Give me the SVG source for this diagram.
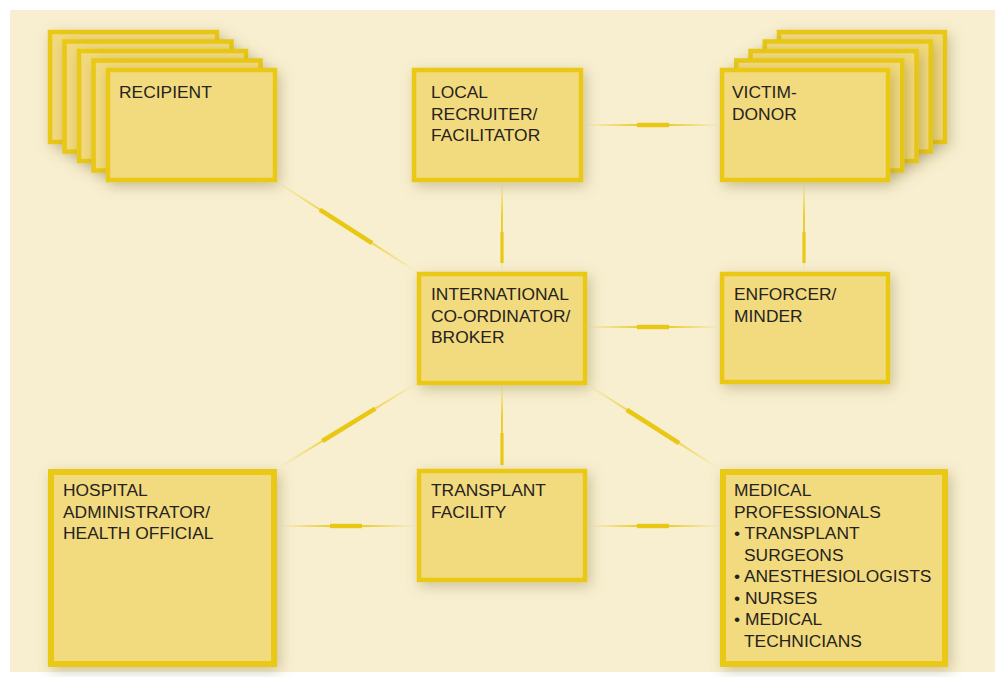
<svg xmlns="http://www.w3.org/2000/svg" width="1000" height="677" viewBox="0 0 1000 677">
  <defs>
    <filter id="sh" x="-25%" y="-25%" width="160%" height="160%">
      <feDropShadow dx="3" dy="4" stdDeviation="7" flood-color="#7a6a30" flood-opacity="0.35"/>
    </filter>
    <linearGradient id="fade" x1="0" y1="0" x2="1" y2="0">
      <stop offset="0" stop-color="#e9c815" stop-opacity="0"/>
      <stop offset="0.38" stop-color="#e9c815" stop-opacity="0.85"/>
      <stop offset="0.62" stop-color="#e9c815" stop-opacity="0.85"/>
      <stop offset="1" stop-color="#e9c815" stop-opacity="0"/>
    </linearGradient>
  </defs>
  <style>
    .box { fill: #f2da7e; stroke: #e9c815; stroke-width: 4.5; filter: url(#sh); }
    .big { stroke-width: 6; }
    .lbl { font-family: "Liberation Sans", Arial, sans-serif; font-size: 17.4px; fill: #262220; }
    .thin { fill: url(#fade); }
    .thick { fill: #e9c815; }
  </style>
  <rect x="0" y="0" width="1000" height="677" fill="#ffffff"/>
  <rect x="10" y="10" width="985" height="662" fill="#f8efd0"/>

  <g id="connectors">
    <g transform="translate(585,125)"><rect class="thin" x="0" y="-1" width="135" height="2"/><rect class="thick" x="52" y="-2.2" width="32" height="4.4"/></g>
    <g transform="translate(502,182) rotate(90)"><rect class="thin" x="0" y="-1" width="90" height="2"/><rect class="thick" x="50" y="-1.6" width="31" height="3.2"/></g>
    <g transform="translate(804,182) rotate(90)"><rect class="thin" x="0" y="-1" width="90" height="2"/><rect class="thick" x="50" y="-1.6" width="31" height="3.2"/></g>
    <g transform="translate(587,327)"><rect class="thin" x="0" y="-1" width="133" height="2"/><rect class="thick" x="50" y="-2.2" width="32" height="4.4"/></g>
    <g transform="translate(277,182) rotate(32.74)"><rect class="thin" x="0" y="-1" width="166" height="2"/><rect class="thick" x="51" y="-2.3" width="62" height="4.6"/></g>
    <g transform="translate(417,383) rotate(148.5)"><rect class="thin" x="0" y="-1" width="161" height="2"/><rect class="thick" x="49" y="-2.3" width="62" height="4.6"/></g>
    <g transform="translate(588,385) rotate(32.55)"><rect class="thin" x="0" y="-1" width="154" height="2"/><rect class="thick" x="46" y="-2.3" width="62" height="4.6"/></g>
    <g transform="translate(502,385) rotate(90)"><rect class="thin" x="0" y="-1" width="84" height="2"/><rect class="thick" x="48" y="-1.6" width="32" height="3.2"/></g>
    <g transform="translate(279,526)"><rect class="thin" x="0" y="-1" width="136" height="2"/><rect class="thick" x="51" y="-2.2" width="32" height="4.4"/></g>
    <g transform="translate(588,526)"><rect class="thin" x="0" y="-1" width="131" height="2"/><rect class="thick" x="49" y="-2.2" width="32" height="4.4"/></g>
  </g>

  <g id="recipient">
    <rect class="box" x="50" y="32" width="167" height="110"/>
    <rect class="box" x="64.5" y="41.5" width="167" height="110"/>
    <rect class="box" x="79" y="51" width="167" height="110"/>
    <rect class="box" x="93.5" y="60.5" width="167" height="110"/>
    <rect class="box" x="108" y="70" width="167" height="110"/>
    <text class="lbl" x="119" y="98">RECIPIENT</text>
  </g>

  <g id="victim-donor">
    <rect class="box" x="779" y="32" width="166" height="110"/>
    <rect class="box" x="764.75" y="41.5" width="166" height="110"/>
    <rect class="box" x="750.5" y="51" width="166" height="110"/>
    <rect class="box" x="736.25" y="60.5" width="166" height="110"/>
    <rect class="box" x="722" y="70" width="166" height="110"/>
    <text class="lbl" x="732" y="98">VICTIM-</text>
    <text class="lbl" x="732" y="119.5">DONOR</text>
  </g>

  <g id="local-recruiter">
    <rect class="box" x="414" y="70" width="167" height="110"/>
    <text class="lbl" x="431" y="98">LOCAL</text>
    <text class="lbl" x="431" y="119.5">RECRUITER/</text>
    <text class="lbl" x="431" y="141">FACILITATOR</text>
  </g>

  <g id="broker">
    <rect class="box" x="419" y="274" width="166" height="109"/>
    <text class="lbl" x="431" y="300">INTERNATIONAL</text>
    <text class="lbl" x="431" y="321.5">CO-ORDINATOR/</text>
    <text class="lbl" x="431" y="343">BROKER</text>
  </g>

  <g id="enforcer">
    <rect class="box" x="722" y="274" width="166" height="108"/>
    <text class="lbl" x="734" y="300">ENFORCER/</text>
    <text class="lbl" x="734" y="321.5">MINDER</text>
  </g>

  <g id="hospital">
    <rect class="box big" x="51" y="472" width="223" height="192"/>
    <text class="lbl" x="63" y="496">HOSPITAL</text>
    <text class="lbl" x="63" y="517.5">ADMINISTRATOR/</text>
    <text class="lbl" x="63" y="539">HEALTH OFFICIAL</text>
  </g>

  <g id="transplant-facility">
    <rect class="box" x="419" y="471" width="166" height="109"/>
    <text class="lbl" x="431" y="496">TRANSPLANT</text>
    <text class="lbl" x="431" y="517.5">FACILITY</text>
  </g>

  <g id="medical-professionals">
    <rect class="box big" x="723" y="472" width="222" height="192"/>
    <text class="lbl" x="734" y="496">MEDICAL</text>
    <text class="lbl" x="734" y="517.5">PROFESSIONALS</text>
    <text class="lbl" x="734" y="539">• TRANSPLANT</text>
    <text class="lbl" x="744" y="560.5">SURGEONS</text>
    <text class="lbl" x="734" y="582">• ANESTHESIOLOGISTS</text>
    <text class="lbl" x="734" y="603.5">• NURSES</text>
    <text class="lbl" x="734" y="625">• MEDICAL</text>
    <text class="lbl" x="744" y="646.5">TECHNICIANS</text>
  </g>
</svg>
